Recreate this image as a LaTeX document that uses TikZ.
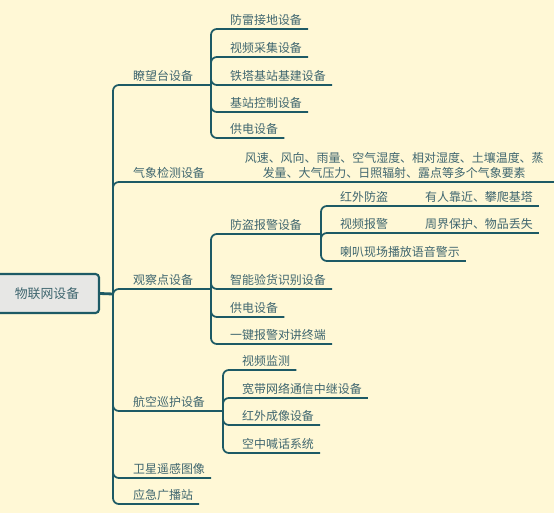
\documentclass[tikz,border=0pt]{standalone}
\usepackage{fontspec}
\newfontfamily\cjk{Noto Sans CJK SC}
\definecolor{bgc}{HTML}{FFF8D6}
\definecolor{linec}{HTML}{1D5A65}
\definecolor{textc}{HTML}{3F666F}
\definecolor{hubfill}{HTML}{E7E7E5}

\begin{document}
\begin{tikzpicture}[x=0.03cm, y=-0.03cm,
    every node/.style={font=\cjk\fontsize{10.2pt}{13pt}\selectfont, text=textc},
    topic/.style={anchor=south west, inner xsep=0.18cm, inner ysep=2.5pt},
    hub/.style={draw=linec, fill=hubfill, line width=1.8pt, rounded corners=3pt,
      minimum width=3.12cm, minimum height=1.17cm, font=\cjk\fontsize{11pt}{13pt}\selectfont},
    link/.style={draw=linec, line width=1.5pt, rounded corners=5pt},
    stub/.style={draw=linec, line width=2.4pt}]
    % Canvas
    \useasboundingbox (0,0) rectangle (554,513);
    \clip (0,0) rectangle (554,513);
    \fill[bgc] (0,0) rectangle (554,513);

    % Root
    \node[hub] (iot) at (47,293.5) {物联网设备};
    \coordinate (trunk) at (113,294);
    \draw[stub] (iot.east) -- (trunk);

    % First level
    \node[topic] (wt) at (127,85)  {瞭望台设备};
    \node[topic] (wx) at (127,182) {气象检测设备};
    \node[topic] (gc) at (127,289) {观察点设备};
    \node[topic] (hk) at (127,411) {航空巡护设备};
    \node[topic] (ws) at (127,478) {卫星遥感图像};
    \node[topic] (gb) at (127,504) {应急广播站};
    \foreach \c in {wt,wx,gc,hk,ws,gb}
      \draw[link] (trunk) |- (\c.south west) -- (\c.south east);

    % Watchtower
    \coordinate (wtb) at (211,85);
    \draw[stub] (wt.south east) -- (wtb);
    \node[topic] (wt1) at (224,29)  {防雷接地设备};
    \node[topic] (wt2) at (224,57)  {视频采集设备};
    \node[topic] (wt3) at (224,85)  {铁塔基站基建设备};
    \node[topic] (wt4) at (224,112) {基站控制设备};
    \node[topic] (wt5) at (224,138) {供电设备};
    \foreach \c in {wt1,wt2,wt3,wt4,wt5}
      \draw[link] (wtb) |- (\c.south west) -- (\c.south east);

    % Weather
    \node[topic, align=center, minimum width=9.6cm] (wxd) at (234,182)
      {风速、风向、雨量、空气湿度、相对湿度、土壤温度、蒸\\发量、大气压力、日照辐射、露点等多个气象要素};
    \draw[link] (wx.south east) -- (wxd.south west) -- (wxd.south east);

    % Observation point
    \coordinate (gcb) at (211,289);
    \draw[stub] (gc.south east) -- (gcb);
    \node[topic] (gc1) at (224,234) {防盗报警设备};
    \node[topic] (gc2) at (224,289) {智能验货识别设备};
    \node[topic] (gc3) at (224,317) {供电设备};
    \node[topic] (gc4) at (224,344) {一键报警对讲终端};
    \foreach \c in {gc1,gc2,gc3,gc4}
      \draw[link] (gcb) |- (\c.south west) -- (\c.south east);

    % Alarm
    \coordinate (afb) at (321,234);
    \draw[stub] (gc1.south east) -- (afb);
    \node[topic] (af1) at (334,206) {红外防盗};
    \node[topic] (af2) at (334,233) {视频报警};
    \node[topic] (af3) at (334,261) {喇叭现场播放语音警示};
    \foreach \c in {af1,af2,af3}
      \draw[link] (afb) |- (\c.south west) -- (\c.south east);
    \node[topic] (af1d) at (419,206) {有人靠近、攀爬基塔};
    \node[topic] (af2d) at (419,233) {周界保护、物品丢失};
    \draw[link] (af1.south east) -- (af1d.south west) -- (af1d.south east);
    \draw[link] (af2.south east) -- (af2d.south west) -- (af2d.south east);

    % Air patrol
    \coordinate (hkb) at (223,411);
    \draw[stub] (hk.south east) -- (hkb);
    \node[topic] (hk1) at (236,370) {视频监测};
    \node[topic] (hk2) at (236,398) {宽带网络通信中继设备};
    \node[topic] (hk3) at (236,425) {红外成像设备};
    \node[topic] (hk4) at (236,453) {空中喊话系统};
    \foreach \c in {hk1,hk2,hk3,hk4}
      \draw[link] (hkb) |- (\c.south west) -- (\c.south east);
\end{tikzpicture}
\end{document}
